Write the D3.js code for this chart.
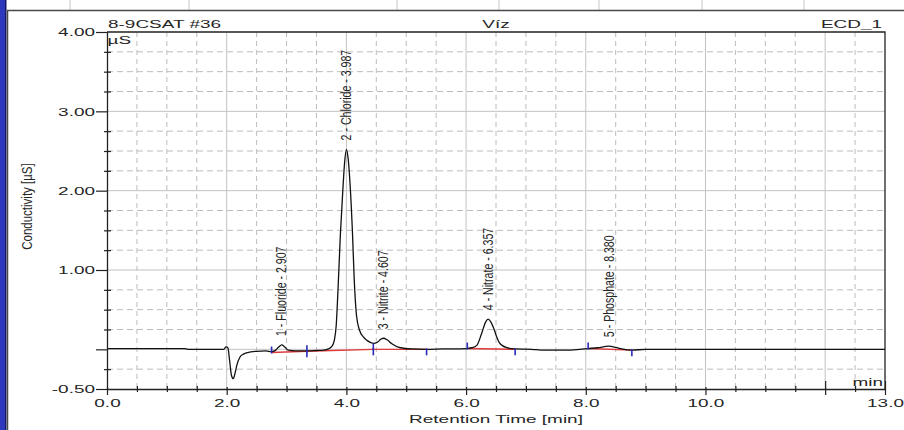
<!DOCTYPE html>
<meta charset="utf-8" />
<head>
  <script src="https://d3js.org/d3.v7.min.js"></script>
  <style>
    body { margin: 0; background: #fff; }
    text { font-family: "Liberation Sans", Arial, sans-serif; fill: #262626; }
  </style>
</head>
<body>
  <div id="chart"></div>
</body>
<script>
  const sampleName = "8-9CSAT #36";
  const sampleType = "Víz";
  const channel = "ECD_1";

  // chromatogram trace (min, µS)
  const times = [0.0, 1.3, 1.35, 1.95, 1.99, 2.02, 2.05, 2.08, 2.11, 2.14, 2.17, 2.22, 2.28, 2.35, 2.5, 2.65,
    2.75, 2.82, 2.87, 2.92, 2.97, 3.03, 3.15, 3.34, 3.5, 3.62, 3.7, 3.76, 3.8, 3.83, 3.86, 3.9, 3.94, 3.97,
    4.0, 4.03, 4.06, 4.1, 4.13, 4.17, 4.22, 4.28, 4.35, 4.45, 4.52, 4.58, 4.62, 4.68, 4.76, 4.9, 5.1, 5.34,
    5.6, 6.0, 6.1, 6.18, 6.26, 6.33, 6.37, 6.41, 6.46, 6.51, 6.57, 6.68, 6.82, 7.1, 7.25, 7.75, 7.9, 8.04,
    8.2, 8.38, 8.5, 8.6, 8.77, 9.0, 13.0];
  const signal = [0.01, 0.01, 0.0, 0.0, 0.03, 0.02, -0.15, -0.33, -0.37, -0.3, -0.2, -0.1, -0.06, -0.04, -0.025, -0.02,
    -0.03, -0.01, 0.03, 0.055, 0.03, -0.01, -0.02, -0.02, -0.015, -0.01, 0.005, 0.04, 0.12, 0.3, 0.75, 1.45, 2.0, 2.35,
    2.52, 2.4, 2.1, 1.5, 0.9, 0.42, 0.24, 0.16, 0.11, 0.075, 0.09, 0.13, 0.14, 0.12, 0.07, 0.02, 0.005, 0.0,
    0.005, 0.01, 0.02, 0.05, 0.2, 0.35, 0.38, 0.35, 0.27, 0.16, 0.07, 0.02, 0.005, 0.0, -0.01, -0.01, 0.0, 0.01,
    0.02, 0.04, 0.025, 0.005, -0.01, 0.0, 0.0];

  // peaks
  const peakNumbers = [1, 2, 3, 4, 5];
  const peakNames = ["Fluoride", "Chloride", "Nitrite", "Nitrate", "Phosphate"];
  const peakTimes = [2.907, 3.987, 4.607, 6.357, 8.38];
  const peakHeights = [0.055, 2.52, 0.14, 0.38, 0.04];

  // integration baselines
  const baseStart = [2.75, 3.34, 4.45, 6.02, 8.04];
  const baseEnd = [3.34, 4.45, 5.34, 6.82, 8.77];
  const baseStartVal = [-0.04, -0.025, 0.0, 0.01, 0.01];
  const baseEndVal = [-0.025, 0.0, 0.0, 0.0, -0.01];

  // axes
  const xMajor = [0, 2, 4, 6, 8, 10, 12, 13];
  const xLabels = ["0.0", "2.0", "4.0", "6.0", "8.0", "10.0", "", "13.0"];
  const yMajor = [4, 3, 2, 1, 0, -0.5];
  const yLabels = ["4.00", "3.00", "2.00", "1.00", "", "-0.50"];

  const W = 904, H = 430;
  const margin = { top: 32, right: 19, bottom: 41, left: 107 };
  const width = W - margin.left - margin.right;
  const height = H - margin.top - margin.bottom;
  const stretch = "scale(1.65,1)";
  const headerCols = [70, 189, 397, 499, 599, 702, 804];

  const root = d3.select("#chart").append("svg").attr("width", W).attr("height", H);

  // window chrome
  root.append("rect").attr("x", 0).attr("y", 0).attr("width", 6).attr("height", H).attr("fill", "#2e38bd");
  root.append("rect").attr("x", 5).attr("y", 0).attr("width", 1.5).attr("height", H).attr("fill", "#141a66");
  headerCols.forEach((c) => {
    root.append("line").attr("x1", c).attr("x2", c).attr("y1", 0).attr("y2", 10)
      .attr("stroke", "#c8c8c8");
  });
  root.append("path").attr("d", "M7.5," + H + "V10.5H" + W)
    .attr("fill", "none").attr("stroke", "#4a4a4a").attr("stroke-width", 1.5);

  const svg = root.append("g").attr("transform", "translate(" + margin.left + "," + margin.top + ")");

  const x = d3.scaleLinear().domain([0, 13]).range([0, width]);
  const y = d3.scaleLinear().domain([-0.5, 4]).range([height, 0]);

  // grid
  const xMinor = d3.range(0.5, 13, 0.5).filter((d) => d % 2 !== 0);
  const yMinor = d3.range(-0.25, 4, 0.25).filter((d) => d % 1 !== 0);
  svg.append("g").selectAll("line").data(xMinor).join("line")
    .attr("x1", (d) => x(d)).attr("x2", (d) => x(d)).attr("y1", 0).attr("y2", height)
    .attr("stroke", "#bcbcbc").attr("stroke-dasharray", "5,4");
  svg.append("g").selectAll("line").data(yMinor).join("line")
    .attr("x1", 0).attr("x2", width).attr("y1", (d) => y(d)).attr("y2", (d) => y(d))
    .attr("stroke", "#bcbcbc").attr("stroke-dasharray", "6,4");
  svg.append("g").selectAll("line").data([2, 4, 6, 8, 10, 12]).join("line")
    .attr("x1", (d) => x(d)).attr("x2", (d) => x(d)).attr("y1", 0).attr("y2", height)
    .attr("stroke", "#c2c2c2");
  svg.append("g").selectAll("line").data([0, 1, 2, 3]).join("line")
    .attr("x1", 0).attr("x2", width).attr("y1", (d) => y(d)).attr("y2", (d) => y(d))
    .attr("stroke", "#c2c2c2");

  // integration baselines
  svg.append("g").selectAll("line").data(baseStart).join("line")
    .attr("x1", (d) => x(d)).attr("x2", (d, i) => x(baseEnd[i]))
    .attr("y1", (d, i) => y(baseStartVal[i])).attr("y2", (d, i) => y(baseEndVal[i]))
    .attr("stroke", "#e03a3a").attr("stroke-width", 1.4);

  // trace
  const line = d3.line().x((d) => x(d)).y((d, i) => y(signal[i])).curve(d3.curveMonotoneX);
  svg.append("path").datum(times).attr("d", line)
    .attr("fill", "none").attr("stroke", "#111").attr("stroke-width", 1.3);

  // peak delimiters
  const marks = svg.append("g").attr("stroke", "#2a2ab8").attr("stroke-width", 1.6);
  baseStart.forEach((t, i) => {
    marks.append("line").attr("x1", x(t)).attr("x2", x(t))
      .attr("y1", y(baseStartVal[i]) - 6).attr("y2", y(baseStartVal[i]) + 1);
    marks.append("line").attr("x1", x(baseEnd[i])).attr("x2", x(baseEnd[i]))
      .attr("y1", y(baseEndVal[i]) - 1).attr("y2", y(baseEndVal[i]) + 6);
  });

  // peak labels
  svg.append("g").selectAll("text").data(peakTimes).join("text")
    .attr("transform", (d, i) => "translate(" + x(d) + "," + (y(peakHeights[i]) - 9) + ") scale(1.4,1) rotate(-90)")
    .attr("dy", "0.36em")
    .style("font-size", "10.6px")
    .text((d, i) => peakNumbers[i] + " - " + peakNames[i] + " - " + d.toFixed(3));

  // axes
  const xAxis = svg.append("g").attr("transform", "translate(0," + height + ")")
    .call(d3.axisBottom(x).tickValues(xMajor).tickFormat((d, i) => xLabels[i])
      .tickSizeInner(6).tickSizeOuter(0).tickPadding(4));
  xAxis.selectAll(".tick text").attr("transform", stretch).style("font-size", "11.5px").attr("fill", "#262626");
  xAxis.selectAll(".tick line").attr("y1", (d) => (d === 12 || d === 13 ? -8 : -2));
  const xMinorAxis = svg.append("g").attr("transform", "translate(0," + height + ")")
    .call(d3.axisBottom(x).tickValues(xMinor).tickFormat("").tickSizeInner(3).tickSizeOuter(0));
  xMinorAxis.selectAll(".tick line").attr("y1", -3);
  xMinorAxis.select(".domain").remove();

  const yAxis = svg.append("g")
    .call(d3.axisLeft(y).tickValues(yMajor).tickFormat((d, i) => yLabels[i])
      .tickSizeInner(11).tickSizeOuter(0).tickPadding(1));
  yAxis.selectAll(".tick line").attr("x1", 1);
  yAxis.selectAll(".tick text").each(function () {
    const t = d3.select(this);
    const x0 = +t.attr("x");
    t.attr("x", 0).attr("transform", "translate(" + x0 + ",0) " + stretch)
      .style("font-size", "11.5px").attr("fill", "#262626");
  });
  const yMinorAxis = svg.append("g")
    .call(d3.axisLeft(y).tickValues(yMinor).tickFormat("").tickSizeInner(3).tickSizeOuter(0));
  yMinorAxis.selectAll(".tick line").attr("x1", 4);
  yMinorAxis.select(".domain").remove();

  svg.selectAll(".domain").attr("stroke", "#222").attr("stroke-width", 1.3);
  svg.selectAll(".tick line").attr("stroke", "#222").attr("stroke-width", 1.2);

  // frame
  svg.append("path").attr("d", "M0,0H" + width + "V" + height)
    .attr("fill", "none").attr("stroke", "#222").attr("stroke-width", 1.3);

  // header texts
  const hdr = (tx, ty, anchor, str) =>
    svg.append("text").attr("transform", "translate(" + tx + "," + ty + ") " + stretch)
      .attr("text-anchor", anchor).style("font-size", "11.5px").text(str);
  hdr(1, -4, "start", sampleName);
  hdr(width / 2, -4, "middle", sampleType);
  hdr(width - 3, -4, "end", channel);
  hdr(0.5, 12, "start", "µS");
  hdr(width - 2, height - 3, "end", "min");

  // axis titles
  svg.append("text")
    .attr("transform", "translate(" + width / 2 + "," + (height + 34) + ") " + stretch)
    .attr("text-anchor", "middle").style("font-size", "11.5px")
    .text("Retention Time [min]");
  svg.append("text")
    .attr("transform", "translate(" + (-80) + "," + y(1.8) + ") scale(1.3,1) rotate(-90)")
    .attr("text-anchor", "middle").attr("dy", "0.36em").style("font-size", "11.5px")
    .text("Conductivity [µS]");
</script>
